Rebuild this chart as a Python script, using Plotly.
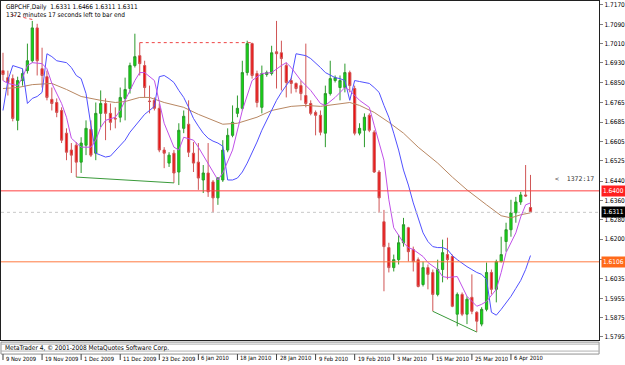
import plotly.graph_objects as go

W, H = 625, 365

# ---------------- data ----------------
opens = [1.6898, 1.6869, 1.6865, 1.6692, 1.6857, 1.6898, 1.6939, 1.7075, 1.6906, 1.6873,
         1.6779, 1.6766, 1.6733, 1.6639, 1.6569, 1.6589, 1.6519, 1.6589, 1.6655, 1.6556,
         1.6721, 1.6762, 1.6721, 1.6700, 1.6705, 1.6783, 1.6824, 1.6919, 1.6960, 1.6919,
         1.6772, 1.6775, 1.6742, 1.6569, 1.6515, 1.6556, 1.6478, 1.6659, 1.6676, 1.6556,
         1.6519, 1.6445, 1.6474, 1.6437, 1.6371, 1.6445, 1.6569, 1.6630, 1.6721, 1.6742,
         1.6890, 1.7010, 1.6886, 1.6746, 1.6882, 1.6886, 1.6976, 1.6972, 1.6919, 1.6857,
         1.6845, 1.6836, 1.6795, 1.6762, 1.6725, 1.6713, 1.6639, 1.6803, 1.6857, 1.6828,
         1.6828, 1.6890, 1.6824, 1.6639, 1.6651, 1.6713, 1.6643, 1.6478, 1.6272, 1.6165,
         1.6082, 1.6115, 1.6185, 1.6247, 1.6157, 1.6115, 1.6012, 1.6082, 1.6062, 1.5971,
         1.6074, 1.6136, 1.6128, 1.5889, 1.5971, 1.5889, 1.5959, 1.5897, 1.5848, 1.5909,
         1.6062, 1.5992, 1.6107, 1.6190, 1.6239, 1.6309, 1.6354, 1.6383, 1.6331]
highs = [1.6972, 1.6898, 1.6882, 1.6873, 1.6906, 1.7010, 1.7104, 1.7092, 1.6993, 1.6898,
         1.6828, 1.6783, 1.6746, 1.6659, 1.6598, 1.6602, 1.6622, 1.6692, 1.6692, 1.6766,
         1.6816, 1.6783, 1.6762, 1.6746, 1.6828, 1.6869, 1.6931, 1.7051, 1.7014, 1.6939,
         1.6836, 1.6787, 1.6762, 1.6581, 1.6560, 1.6569, 1.6680, 1.6733, 1.6775, 1.6602,
         1.6598, 1.6507, 1.6598, 1.6445, 1.6457, 1.6610, 1.6659, 1.6754, 1.6795, 1.6939,
         1.7022, 1.7014, 1.6898, 1.6919, 1.6898, 1.7001, 1.7104, 1.7022, 1.6931, 1.6869,
         1.6849, 1.6857, 1.7010, 1.6775, 1.6733, 1.6733, 1.6836, 1.6939, 1.6878, 1.6878,
         1.6927, 1.6898, 1.6836, 1.6680, 1.6721, 1.6721, 1.6651, 1.6486, 1.6321, 1.6185,
         1.6136, 1.6218, 1.6288, 1.6251, 1.6169, 1.6124, 1.6107, 1.6095, 1.6074, 1.6115,
         1.6198, 1.6206, 1.6136, 1.5979, 1.5979, 1.5963, 1.6054, 1.5901, 1.5918, 1.6103,
         1.6074, 1.6115, 1.6210, 1.6268, 1.6363, 1.6375, 1.6396, 1.6507, 1.6466]
lows = [1.6857, 1.6795, 1.6688, 1.6651, 1.6836, 1.6886, 1.6931, 1.6878, 1.6828, 1.6775,
        1.6733, 1.6705, 1.6598, 1.6527, 1.6474, 1.6457, 1.6474, 1.6548, 1.6540, 1.6527,
        1.6663, 1.6610, 1.6651, 1.6659, 1.6684, 1.6692, 1.6803, 1.6911, 1.6878, 1.6787,
        1.6721, 1.6733, 1.6560, 1.6494, 1.6499, 1.6433, 1.6424, 1.6639, 1.6540, 1.6478,
        1.6404, 1.6391, 1.6375, 1.6309, 1.6342, 1.6437, 1.6560, 1.6622, 1.6705, 1.6733,
        1.6878, 1.6865, 1.6746, 1.6721, 1.6873, 1.6878, 1.6824, 1.6816, 1.6787, 1.6803,
        1.6808, 1.6775, 1.6746, 1.6713, 1.6630, 1.6630, 1.6581, 1.6795, 1.6849, 1.6775,
        1.6808, 1.6808, 1.6630, 1.6630, 1.6581, 1.6643, 1.6474, 1.6309, 1.5984, 1.6062,
        1.6066, 1.6095, 1.6169, 1.6107, 1.6066, 1.6000, 1.6004, 1.5992, 1.5901, 1.5963,
        1.6021, 1.6033, 1.5918, 1.5839, 1.5881, 1.5848, 1.5889, 1.5815, 1.5839, 1.5901,
        1.5971, 1.5938, 1.6103, 1.6148, 1.6210, 1.6268, 1.6342, 1.6375, 1.6311]
closes = [1.6882, 1.6849, 1.6700, 1.6857, 1.6886, 1.6939, 1.7075, 1.6939, 1.6878, 1.6787,
          1.6762, 1.6725, 1.6610, 1.6560, 1.6548, 1.6519, 1.6598, 1.6659, 1.6548, 1.6721,
          1.6762, 1.6721, 1.6684, 1.6698, 1.6787, 1.6820, 1.6919, 1.6956, 1.6927, 1.6828,
          1.6770, 1.6742, 1.6569, 1.6556, 1.6548, 1.6474, 1.6651, 1.6709, 1.6560, 1.6515,
          1.6453, 1.6474, 1.6396, 1.6371, 1.6453, 1.6569, 1.6630, 1.6684, 1.6742, 1.6890,
          1.7010, 1.6878, 1.6766, 1.6886, 1.6890, 1.6972, 1.6968, 1.6948, 1.6849, 1.6845,
          1.6824, 1.6803, 1.6762, 1.6721, 1.6713, 1.6643, 1.6803, 1.6865, 1.6869, 1.6857,
          1.6890, 1.6836, 1.6639, 1.6659, 1.6705, 1.6651, 1.6478, 1.6371, 1.6169, 1.6082,
          1.6115, 1.6185, 1.6260, 1.6148, 1.6107, 1.6004, 1.6082, 1.6054, 1.5971, 1.6074,
          1.6144, 1.6115, 1.5922, 1.5971, 1.5889, 1.5951, 1.5901, 1.5860, 1.5909, 1.6062,
          1.5992, 1.6107, 1.6136, 1.6239, 1.6309, 1.6354, 1.6383, 1.6379, 1.6311]
bars = list(range(len(opens)))

# trailing channel line (blue), one value per bar
blue_line = [1.6733, 1.6857, 1.6919, 1.6911, 1.6906, 1.6762, 1.6783, 1.6791, 1.6808, 1.6968,
             1.6956, 1.6939, 1.6935, 1.6931, 1.6911, 1.6878, 1.6865, 1.6803, 1.6672, 1.6556,
             1.6548, 1.6540, 1.6544, 1.6565, 1.6585, 1.6610, 1.6643, 1.6668, 1.6692, 1.6717,
             1.6733, 1.6750, 1.6873, 1.6878, 1.6865, 1.6849, 1.6816, 1.6787, 1.6746, 1.6700,
             1.6668, 1.6639, 1.6618, 1.6606, 1.6598, 1.6585, 1.6445, 1.6445, 1.6453, 1.6478,
             1.6515, 1.6556, 1.6602, 1.6651, 1.6692, 1.6733, 1.6775, 1.6808, 1.6836, 1.6865,
             1.6968, 1.6964, 1.6960, 1.6948, 1.6931, 1.6911, 1.6890, 1.6878, 1.6869, 1.6865,
             1.6857, 1.6775, 1.6857, 1.6853, 1.6849, 1.6845, 1.6828, 1.6808, 1.6754, 1.6705,
             1.6639, 1.6569, 1.6486, 1.6424, 1.6350, 1.6292, 1.6226, 1.6190, 1.6169, 1.6165,
             1.6165, 1.6157, 1.6132, 1.6115, 1.6099, 1.6086, 1.6074, 1.6062, 1.6054, 1.6033,
             1.5897, 1.5885, 1.5909, 1.5934, 1.5963, 1.5996, 1.6029, 1.6074, 1.6132]

# fast MA (violet)
fast_ma_bar = [0, 1, 3, 4, 5, 6, 8, 9, 10, 12, 13, 14, 16, 18, 19, 20, 21, 23, 24, 25,
               27, 28, 29, 31, 32, 33, 35, 36, 37, 39, 40, 42, 44, 45, 47, 49, 51, 53, 55, 57,
               58, 59, 61, 63, 65, 66, 68, 70, 71, 73, 75, 76, 78, 79, 80, 82, 83, 84, 86, 87,
               89, 90, 91, 93, 94, 95, 97, 98, 99, 101, 102, 103, 105, 106, 107, 108]
fast_ma = [1.6857, 1.6845, 1.6836, 1.6869, 1.6919, 1.6931, 1.6927, 1.6906, 1.6845, 1.6762,
           1.6705, 1.6618, 1.6581, 1.6581, 1.6610, 1.6663, 1.6692, 1.6705, 1.6733, 1.6775,
           1.6857, 1.6890, 1.6890, 1.6857, 1.6762, 1.6680, 1.6581, 1.6569, 1.6622, 1.6610,
           1.6581, 1.6515, 1.6445, 1.6474, 1.6569, 1.6733, 1.6857, 1.6886, 1.6890, 1.6919,
           1.6931, 1.6911, 1.6857, 1.6816, 1.6762, 1.6754, 1.6787, 1.6828, 1.6816, 1.6775,
           1.6746, 1.6672, 1.6527, 1.6363, 1.6247, 1.6185, 1.6165, 1.6157, 1.6128, 1.6103,
           1.6074, 1.6045, 1.6041, 1.6045, 1.6004, 1.5963, 1.5922, 1.5930, 1.5942, 1.5992,
           1.6062, 1.6144, 1.6226, 1.6292, 1.6342, 1.6350]

# slow MA (tan)
slow_ma_bar = [0, 3, 6, 10, 13, 16, 20, 23, 25, 28, 30, 33, 37, 40, 45, 48, 52, 55, 59, 62,
               65, 69, 71, 73, 76, 79, 82, 85, 89, 92, 95, 99, 102, 104, 106, 108]
slow_ma = [1.6824, 1.6828, 1.6840, 1.6845, 1.6820, 1.6791, 1.6775, 1.6766, 1.6770, 1.6787,
           1.6787, 1.6766, 1.6746, 1.6717, 1.6676, 1.6680, 1.6705, 1.6733, 1.6750, 1.6754,
           1.6750, 1.6762, 1.6766, 1.6754, 1.6725, 1.6684, 1.6639, 1.6581, 1.6515, 1.6457,
           1.6404, 1.6342, 1.6297, 1.6288, 1.6301, 1.6309]

# drawn objects
support1_bar = [15, 35]
support1 = [1.6457, 1.6433]
support2_bar = [88, 97]
support2 = [1.5901, 1.5815]
resist_bar = [28, 51]
resist_level = 1.7014
trend_bar = [1.8, 6]
trend = [1.7129, 1.7110]
level_red = 1.6400
level_bid = 1.6311
level_orange = 1.6106

date_tick_bar = [0, 8, 16, 24, 32, 40, 48, 56, 64, 72, 80, 88, 96, 104]
date_labels = ["9 Nov 2009", "19 Nov 2009", "1 Dec 2009", "11 Dec 2009", "23 Dec 2009",
               "6 Jan 2010", "18 Jan 2010", "28 Jan 2010", "9 Feb 2010", "19 Feb 2010",
               "3 Mar 2010", "15 Mar 2010", "25 Mar 2010", "6 Apr 2010"]
price_ticks = [1.7170, 1.7090, 1.7010, 1.6930, 1.6850, 1.6765, 1.6685, 1.6605, 1.6525,
               1.6440, 1.6360, 1.6280, 1.6200, 1.6115, 1.6035, 1.5955, 1.5875, 1.5795]
price_labels = ["%.4f" % v for v in price_ticks]

# ---------------- figure ----------------
FONT = "DejaVu Sans Condensed, Liberation Sans, Arial, sans-serif"
FS = 6.5
def py(px):  # pixel row -> paper y
    return 1 - px / H

fig = go.Figure()

fig.add_trace(go.Candlestick(
    x=bars, open=opens, high=highs, low=lows, close=closes,
    increasing=dict(line=dict(color="#2c9a2c", width=1), fillcolor="#10dc10"),
    decreasing=dict(line=dict(color="#d05555", width=1), fillcolor="#ee1111"),
    whiskerwidth=0, hoverinfo="skip", showlegend=False))

fig.add_trace(go.Scatter(x=slow_ma_bar, y=slow_ma, mode="lines",
                         line=dict(color="#b88762", width=1), showlegend=False))
fig.add_trace(go.Scatter(x=bars, y=blue_line, mode="lines",
                         line=dict(color="#5050ff", width=1), showlegend=False))
fig.add_trace(go.Scatter(x=fast_ma_bar, y=fast_ma, mode="lines",
                         line=dict(color="#c050e8", width=1), showlegend=False))
for bx, by in [(support1_bar, support1), (support2_bar, support2)]:
    fig.add_trace(go.Scatter(x=bx, y=by, mode="lines",
                             line=dict(color="#3a9a3a", width=1), showlegend=False))
fig.add_trace(go.Scatter(x=resist_bar, y=[resist_level, resist_level], mode="lines",
                         line=dict(color="#ee4444", width=1, dash="dot"), showlegend=False))
fig.add_trace(go.Scatter(x=trend_bar, y=trend, mode="lines",
                         line=dict(color="#ee4444", width=1, dash="dot"), showlegend=False))

# horizontal levels
fig.add_hline(y=level_red, line=dict(color="#ff4040", width=1))
fig.add_hline(y=level_orange, line=dict(color="#ff7a40", width=1))
fig.add_hline(y=level_bid, line=dict(color="#c8c8c8", width=1, dash="dot"))

X0, X1 = 1, 601
BAR_PX = 4.9
r0 = -2 / BAR_PX
r1 = r0 + (X1 - X0) / BAR_PX
Y_BOTTOM = 341

fig.update_layout(
    width=W, height=H, margin=dict(l=0, r=0, t=0, b=0),
    paper_bgcolor="white", plot_bgcolor="white",
    font=dict(family=FONT, size=FS, color="black"),
    xaxis=dict(domain=[X0 / W, X1 / W], range=[r0, r1], showgrid=False, zeroline=False,
               showticklabels=False, ticks="", showline=True, linecolor="#202020",
               linewidth=1, mirror=True, rangeslider=dict(visible=False), fixedrange=True),
    yaxis=dict(domain=[py(Y_BOTTOM), 1], range=[1.71865 - 0.000412 * Y_BOTTOM, 1.71865],
               side="right", tickvals=price_ticks, ticktext=price_labels, ticks="outside",
               ticklen=3, tickcolor="#808080", tickfont=dict(family=FONT, size=FS, color="black"),
               showgrid=False, zeroline=False, showline=True, linecolor="#202020",
               linewidth=1, mirror=True, fixedrange=True),
    boxgap=0.35,
)

ann = []
ann.append(dict(text="GBPCHF,Daily  1.6331 1.6466 1.6311 1.6311", x=4 / W, y=py(6),
                xref="paper", yref="paper", xanchor="left", yanchor="middle",
                showarrow=False, font=dict(family=FONT, size=FS, color="black")))
ann.append(dict(text="1372 minutes 17 seconds left to bar end", x=4 / W, y=py(14),
                xref="paper", yref="paper", xanchor="left", yanchor="middle",
                showarrow=False, font=dict(family=FONT, size=FS, color="black")))
ann.append(dict(text="<  1372:17", x=598 / W, y=py(179), xref="paper", yref="paper",
                xanchor="right", yanchor="middle", showarrow=False,
                font=dict(family="DejaVu Sans Mono", size=6.5, color="#333333")))
for val, bg in [(level_red, "#ff2020"), (level_bid, "#000000"), (level_orange, "#ff6a1a")]:
    ann.append(dict(text="%.4f" % val, x=603 / W, y=val, xref="paper", yref="y",
                    xanchor="left", yanchor="middle", showarrow=False, bgcolor=bg,
                    borderpad=1, font=dict(family=FONT, size=FS, color="white")))
ann.append(dict(text="MetaTrader 4, © 2001-2008 MetaQuotes Software Corp.", x=3 / W,
                y=py(348.5), xref="paper", yref="paper", xanchor="left", yanchor="middle",
                showarrow=False, font=dict(family=FONT, size=FS, color="black")))
for b, lab in zip(date_tick_bar, date_labels):
    ann.append(dict(text=lab, x=b, y=py(359.5), xref="x", yref="paper", xanchor="left",
                    yanchor="middle", xshift=1, showarrow=False,
                    font=dict(family=FONT, size=5.8, color="black")))
fig.update_layout(annotations=ann)

shapes = []
# bottom strip
shapes.append(dict(type="rect", xref="paper", yref="paper", x0=X0 / W, x1=X1 / W,
                   y0=py(355), y1=py(343), line=dict(color="#909090", width=1),
                   fillcolor="white", layer="below"))
shapes.append(dict(type="line", xref="paper", yref="paper", x0=X0 / W, x1=X1 / W,
                   y0=py(345), y1=py(345), line=dict(color="#b0b0b0", width=1)))
shapes.append(dict(type="line", xref="paper", yref="paper", x0=X0 / W, x1=X1 / W,
                   y0=py(352), y1=py(352), line=dict(color="#b0b0b0", width=1)))
for b in date_tick_bar:
    shapes.append(dict(type="line", xref="x", yref="paper", x0=b, x1=b,
                       y0=py(355), y1=py(361), line=dict(color="#404040", width=1)))
fig.update_layout(shapes=fig.layout.shapes + tuple(shapes))

fig.write_html("out.html")
